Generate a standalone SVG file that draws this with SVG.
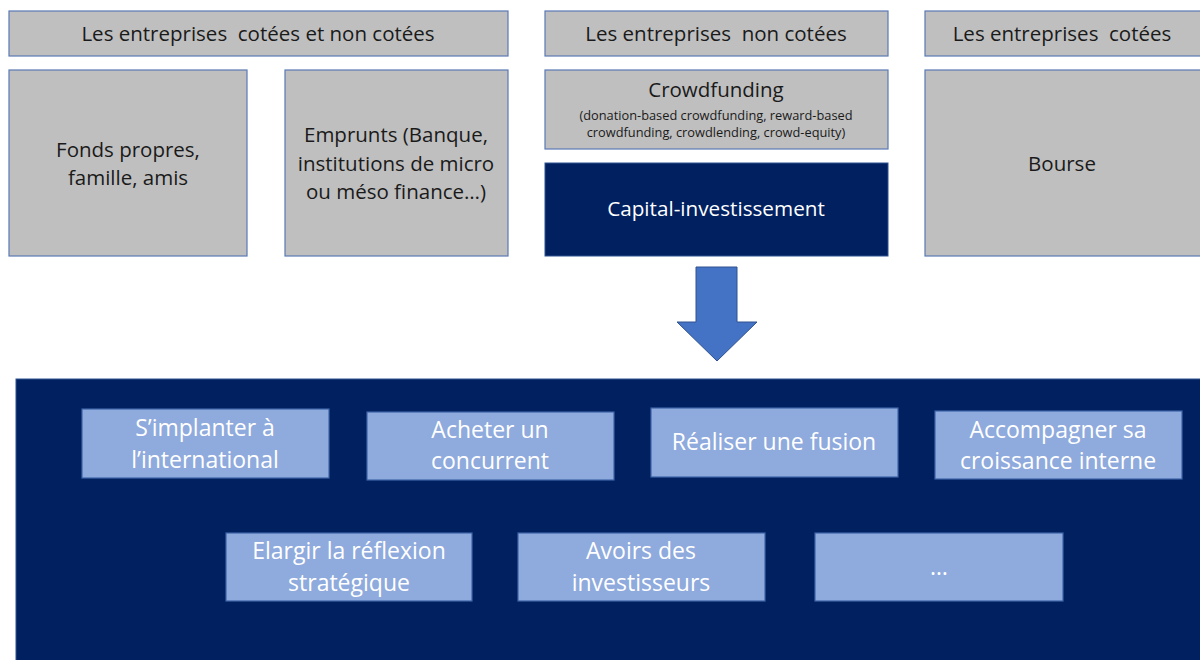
<svg xmlns="http://www.w3.org/2000/svg" width="1200" height="660" viewBox="0 0 1200 660">
<style>
.g{fill:#BFBFBF;stroke:#5A7AB5;stroke-width:1.2}
.d{fill:#002060;stroke:#2F528F;stroke-width:1}
.l{fill:#8FAADC;stroke:#3E64A8;stroke-width:1.2}
text{font-family:"Open Sans","Noto Sans","Liberation Sans",sans-serif;text-anchor:middle;white-space:pre}
.t{font-size:20.5px;fill:#1a1a1a}
.s{font-size:12.8px;fill:#1a1a1a}
.w{font-size:20.7px;fill:#ffffff}
.b{font-size:23px;fill:#ffffff}
</style>
<rect width="1200" height="660" fill="#ffffff"/>
<g id="h1"><rect class="g" x="9" y="11" width="499" height="45"/><text class="t" x="258" y="41" xml:space="preserve">Les entreprises  cotées et non cotées</text></g>
<g id="h2"><rect class="g" x="545" y="11" width="343" height="45"/><text class="t" x="716" y="41" xml:space="preserve">Les entreprises  non cotées</text></g>
<g id="h3"><rect class="g" x="925" y="11" width="280" height="45"/><text class="t" x="1062" y="41" xml:space="preserve">Les entreprises  cotées</text></g>
<g id="fonds"><rect class="g" x="9" y="70" width="238" height="186"/><text class="t" x="128" y="157">Fonds propres,</text><text class="t" x="128" y="185">famille, amis</text></g>
<g id="emprunts"><rect class="g" x="285" y="70" width="223" height="186"/><text class="t" x="396" y="142">Emprunts (Banque,</text><text class="t" x="396" y="171">institutions de micro</text><text class="t" x="396" y="199">ou méso finance…)</text></g>
<g id="crowd"><rect class="g" x="545" y="70" width="343" height="79"/><text class="t" x="716" y="97">Crowdfunding</text><text class="s" x="716" y="120">(donation-based crowdfunding, reward-based</text><text class="s" x="716" y="137">crowdfunding, crowdlending, crowd-equity)</text></g>
<g id="capital"><rect class="d" x="545" y="163" width="343" height="93"/><text class="w" x="716" y="216">Capital-investissement</text></g>
<g id="bourse"><rect class="g" x="925" y="70" width="280" height="186"/><text class="t" x="1062" y="171">Bourse</text></g>
<g id="connectors"><polygon points="696,267 737,267 737,322 757,322 717,361 677,322 696,322" fill="#4472C4" stroke="#2F528F" stroke-width="1"/></g>
<g id="panel"><rect class="d" x="16" y="379" width="1190" height="290"/></g>
<g id="b1"><rect class="l" x="82" y="409" width="247" height="69"/><text class="b" x="205" y="436">S’implanter à</text><text class="b" x="205" y="468">l’international</text></g>
<g id="b2"><rect class="l" x="367" y="412" width="247" height="68"/><text class="b" x="490" y="438">Acheter un</text><text class="b" x="490" y="469">concurrent</text></g>
<g id="b3"><rect class="l" x="651" y="408" width="247" height="69"/><text class="b" x="774" y="450">Réaliser une fusion</text></g>
<g id="b4"><rect class="l" x="935" y="411" width="247" height="68"/><text class="b" x="1058" y="438">Accompagner sa</text><text class="b" x="1058" y="469">croissance interne</text></g>
<g id="b5"><rect class="l" x="226" y="533" width="246" height="68"/><text class="b" x="349" y="559">Elargir la réflexion</text><text class="b" x="349" y="591">stratégique</text></g>
<g id="b6"><rect class="l" x="518" y="533" width="247" height="68"/><text class="b" x="641" y="559">Avoirs des</text><text class="b" x="641" y="591">investisseurs</text></g>
<g id="b7"><rect class="l" x="815" y="533" width="248" height="68"/><text class="b" x="939" y="575">…</text></g>
</svg>
